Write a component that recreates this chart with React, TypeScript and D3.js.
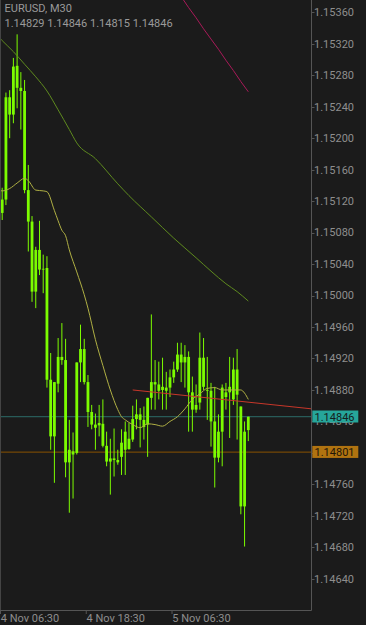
import React from 'react';
import * as d3 from 'd3';

const SYMBOL = 'EURUSD, M30';
const LAST_OHLC = ['1.14829', '1.14846', '1.14815', '1.14846'];

const OPEN = [1.15105, 1.15122, 1.15252, 1.15230, 1.15292, 1.15264, 1.15260, 1.15134, 1.15094, 1.15005,
  1.15058, 1.15034, 1.15035, 1.14893, 1.14821, 1.14888, 1.14922, 1.14918, 1.14788, 1.14802,
  1.14800, 1.14915, 1.14932, 1.14890, 1.14852, 1.14836, 1.14835, 1.14837, 1.14809, 1.14789,
  1.14793, 1.14791, 1.14795, 1.14804, 1.14805, 1.14817, 1.14843, 1.14849, 1.14842, 1.14836,
  1.14870, 1.14890, 1.14887, 1.14880, 1.14883, 1.14883, 1.14896, 1.14906, 1.14925, 1.14915,
  1.14922, 1.14877, 1.14855, 1.14864, 1.14921, 1.14880, 1.14879, 1.14840, 1.14794, 1.14827,
  1.14877, 1.14877, 1.14868, 1.14906, 1.14859, 1.14732, 1.14829];
const HIGH = [1.15137, 1.15258, 1.15261, 1.15302, 1.15332, 1.15284, 1.15274, 1.15166, 1.15101, 1.15062,
  1.15095, 1.15052, 1.15050, 1.14927, 1.14890, 1.14946, 1.14965, 1.14945, 1.14842, 1.14826,
  1.14915, 1.14963, 1.14945, 1.14899, 1.14861, 1.14850, 1.14861, 1.14868, 1.14827, 1.14818,
  1.14831, 1.14804, 1.14830, 1.14840, 1.14838, 1.14860, 1.14868, 1.14857, 1.14859, 1.14870,
  1.14976, 1.14918, 1.14916, 1.14921, 1.14903, 1.14906, 1.14916, 1.14940, 1.14940, 1.14937,
  1.14929, 1.14897, 1.14887, 1.14953, 1.14946, 1.14922, 1.14889, 1.14884, 1.14849, 1.14887,
  1.14889, 1.14922, 1.14921, 1.14932, 1.14859, 1.14840, 1.14846];
const LOW = [1.15096, 1.15115, 1.15200, 1.15219, 1.15238, 1.15211, 1.15130, 1.15056, 1.14992, 1.14984,
  1.15026, 1.15003, 1.14883, 1.14804, 1.14762, 1.14877, 1.14912, 1.14769, 1.14724, 1.14742,
  1.14798, 1.14890, 1.14887, 1.14833, 1.14830, 1.14804, 1.14821, 1.14807, 1.14783, 1.14747,
  1.14770, 1.14785, 1.14772, 1.14772, 1.14804, 1.14814, 1.14830, 1.14807, 1.14817, 1.14795,
  1.14855, 1.14855, 1.14868, 1.14855, 1.14855, 1.14871, 1.14889, 1.14903, 1.14890, 1.14883,
  1.14827, 1.14827, 1.14851, 1.14855, 1.14880, 1.14842, 1.14808, 1.14756, 1.14788, 1.14783,
  1.14855, 1.14819, 1.14861, 1.14817, 1.14722, 1.14681, 1.14815];
const CLOSE = [1.15122, 1.15252, 1.15230, 1.15291, 1.15264, 1.15260, 1.15134, 1.15094, 1.15005, 1.15058,
  1.15033, 1.15033, 1.14893, 1.14821, 1.14890, 1.14922, 1.14918, 1.14788, 1.14804, 1.14798,
  1.14915, 1.14932, 1.14890, 1.14852, 1.14836, 1.14832, 1.14838, 1.14809, 1.14789, 1.14793,
  1.14791, 1.14788, 1.14813, 1.14827, 1.14818, 1.14843, 1.14849, 1.14842, 1.14833, 1.14870,
  1.14890, 1.14887, 1.14879, 1.14884, 1.14879, 1.14896, 1.14906, 1.14925, 1.14915, 1.14922,
  1.14877, 1.14855, 1.14861, 1.14921, 1.14884, 1.14879, 1.14840, 1.14794, 1.14827, 1.14883,
  1.14871, 1.14884, 1.14906, 1.14874, 1.14732, 1.14827, 1.14846];

// moving averages (bar index, price)
const SLOW_MA_BARS = [-1, 0, 3, 6, 9, 12, 15, 18, 20, 25, 31, 34, 40, 46, 52, 56, 60, 63, 66];
const SLOW_MA_VALS = [1.15329, 1.15324, 1.15310, 1.15294, 1.15278, 1.15260, 1.15236, 1.15211, 1.15194, 1.15174,
  1.15142, 1.15127, 1.15100, 1.15073, 1.15048, 1.15031, 1.15015, 1.15005, 1.14993];
const FAST_MA_BARS = [-1, 0, 2, 4, 6, 7, 9, 11, 12, 14, 15, 16, 17, 18, 20, 22, 23, 25, 27, 29, 31, 32, 33, 35, 37,
  39, 41, 43, 45, 47, 49, 51, 53, 55, 57, 59, 61, 63, 64, 65, 66];
const FAST_MA_VALS = [1.15134, 1.15133, 1.15136, 1.15143, 1.15149, 1.15146, 1.15134, 1.15133, 1.15132, 1.15108,
  1.15095, 1.15083, 1.15076, 1.15058, 1.15030, 1.15001, 1.14984, 1.14944, 1.14911, 1.14880,
  1.14855, 1.14846, 1.14842, 1.14836, 1.14832, 1.14837, 1.14836, 1.14834, 1.14840, 1.14846,
  1.14856, 1.14868, 1.14875, 1.14882, 1.14883, 1.14880, 1.14880, 1.14880, 1.14880, 1.14876, 1.14868];
const LONG_MA_BARS = [48, 50, 52, 54, 56, 58, 60, 62, 64, 66];
const LONG_MA_VALS = [1.15380, 1.15366, 1.15353, 1.15339, 1.15326, 1.15313, 1.15299, 1.15286, 1.15272, 1.15259];

const TREND_BARS = [35, 83];
const TREND_VALS = [1.14880, 1.14856];

const BID_PRICE = 1.14846;
const LEVEL_PRICE = 1.14801;

const PRICE_TICKS = [1.14640, 1.14680, 1.14720, 1.14760, 1.14800, 1.14840, 1.14880, 1.14920, 1.14960,
  1.15000, 1.15040, 1.15080, 1.15120, 1.15160, 1.15200, 1.15240, 1.15280, 1.15320, 1.15360];
const TIME_LABELS = ['4 Nov 06:30', '4 Nov 18:30', '5 Nov 06:30'];
const TIME_LABEL_BARS = [0, 23, 46];

const W = 366;
const H = 625;
const PLOT_R = 311.5;
const PLOT_B = 610;
const FONT = 'Roboto, "Noto Sans", sans-serif';

export default function App() {
  const x = d3.scaleLinear().domain([0, 66]).range([2.2, 248.3]);
  const y = d3.scaleLinear().domain([1.1464, 1.1536]).range([578.8, 12.3]);
  const bodyW = 2.8;

  const mk = (bars: number[], vals: number[], curve: d3.CurveFactory) =>
    d3.line<number>().x((_, i) => x(bars[i])).y((v) => y(v)).curve(curve)(vals) || '';

  const trendSlope = (y(TREND_VALS[1]) - y(TREND_VALS[0])) / (x(TREND_BARS[1]) - x(TREND_BARS[0]));

  return (
    <div style={{ position: 'fixed', left: 0, top: 0, width: W, height: H, background: '#1b1b1b' }}>
      <svg width={W} height={H} style={{ display: 'block' }}>
        <defs>
          <clipPath id="plot">
            <rect x={0} y={0} width={PLOT_R} height={PLOT_B} />
          </clipPath>
        </defs>
        <rect x={0} y={0} width={W} height={H} fill="#1b1b1b" />

        <g clipPath="url(#plot)">
          <line x1={0} x2={PLOT_R} y1={y(BID_PRICE)} y2={y(BID_PRICE)} stroke="#2c6d69" strokeWidth={1} />
          <line x1={0} x2={PLOT_R} y1={y(LEVEL_PRICE)} y2={y(LEVEL_PRICE)} stroke="#8a5300" strokeWidth={1} />

          {OPEN.map((o, i) => {
            const c = CLOSE[i];
            const cx = x(i);
            const top = y(Math.max(o, c));
            const bot = y(Math.min(o, c));
            return (
              <g key={i}>
                <line x1={cx} x2={cx} y1={y(HIGH[i])} y2={y(LOW[i])} stroke="#7cfc00" strokeWidth={1} />
                <rect x={cx - bodyW / 2} y={top} width={bodyW} height={Math.max(0.6, bot - top)} fill="#7cfc00" />
              </g>
            );
          })}

          <path d={mk(SLOW_MA_BARS, SLOW_MA_VALS, d3.curveMonotoneX)} fill="none" stroke="#5e8a1e" strokeWidth={1} />
          <path d={mk(FAST_MA_BARS, FAST_MA_VALS, d3.curveMonotoneX)} fill="none" stroke="#b0b044" strokeWidth={1} />
          <path d={mk(LONG_MA_BARS, LONG_MA_VALS, d3.curveLinear)} fill="none" stroke="#a81a58" strokeWidth={1} />
          <line
            x1={x(TREND_BARS[0])}
            y1={y(TREND_VALS[0])}
            x2={PLOT_R}
            y2={y(TREND_VALS[0]) + trendSlope * (PLOT_R - x(TREND_BARS[0]))}
            stroke="#c8372a"
            strokeWidth={1}
          />
        </g>

        {/* frame */}
        <line x1={0.5} x2={0.5} y1={0} y2={PLOT_B} stroke="#444" />
        <line x1={PLOT_R} x2={PLOT_R} y1={0} y2={PLOT_B + 0.5} stroke="#555" />
        <line x1={0} x2={PLOT_R} y1={PLOT_B + 0.5} y2={PLOT_B + 0.5} stroke="#555" />

        {/* price axis */}
        {PRICE_TICKS.map((p) => (
          <g key={p}>
            <line x1={PLOT_R} x2={PLOT_R + 3} y1={Math.round(y(p)) + 0.5} y2={Math.round(y(p)) + 0.5} stroke="#555" />
            <text x={PLOT_R + 2.5} y={y(p)} dy="0.35em" fill="#8e8e8e" fontSize={11} fontFamily={FONT}>
              {p.toFixed(5)}
            </text>
          </g>
        ))}

        {/* time axis */}
        {TIME_LABELS.map((t, i) => {
          const lx = Math.max(0.5, x(TIME_LABEL_BARS[i]) - 2.2 + 0.5);
          return (
            <g key={t}>
              <line x1={lx} x2={lx} y1={PLOT_B} y2={PLOT_B + 4} stroke="#555" />
              <text x={lx + 0.3} y={621.5} fill="#8e8e8e" fontSize={11} fontFamily={FONT}>
                {t}
              </text>
            </g>
          );
        })}

        {/* current price labels */}
        <rect x={PLOT_R + 0.8} y={y(BID_PRICE) - 6.2} width={46} height={12} fill="#26a69a" />
        <text x={PLOT_R + 3} y={y(BID_PRICE)} dy="0.35em" fill="#152020" fontSize={11} fontFamily={FONT}>
          {BID_PRICE.toFixed(5)}
        </text>
        <rect x={PLOT_R + 0.8} y={y(LEVEL_PRICE) - 6.2} width={46} height={12} fill="#b07310" />
        <text x={PLOT_R + 3} y={y(LEVEL_PRICE)} dy="0.35em" fill="#1e1508" fontSize={11} fontFamily={FONT}>
          {LEVEL_PRICE.toFixed(5)}
        </text>

        {/* header */}
        <text x={4.5} y={11.7} fill="#9a9a9a" fontSize={11} fontFamily={FONT}>{SYMBOL}</text>
        <text x={4.5} y={26.7} fill="#9a9a9a" fontSize={11} fontFamily={FONT}>{LAST_OHLC.join(' ')}</text>
      </svg>
    </div>
  );
}
